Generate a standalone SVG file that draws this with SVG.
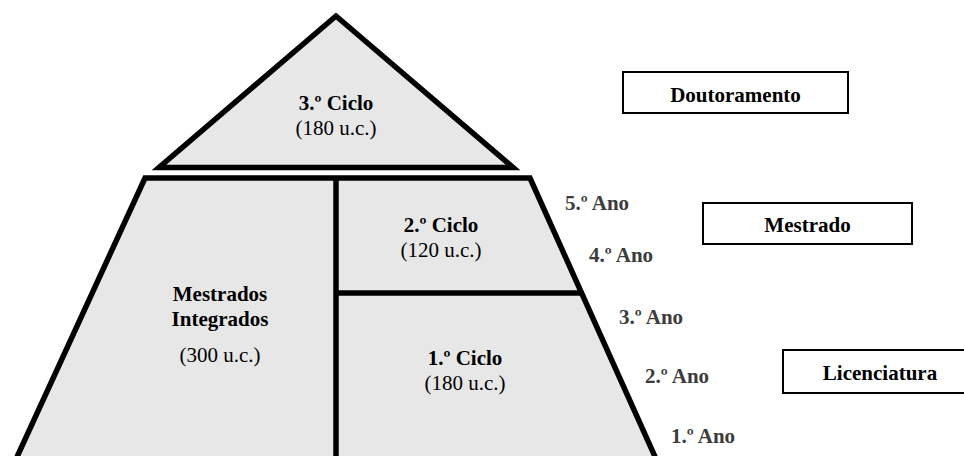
<svg xmlns="http://www.w3.org/2000/svg" width="964" height="456" viewBox="0 0 964 456">
<style>
.shape{fill:#e7e7e7;stroke:#000;stroke-width:5.5;stroke-linejoin:miter}
.div{stroke:#000;stroke-width:5.5;fill:none}
.box{fill:#fff;stroke:#000;stroke-width:2}
text{font-family:"Liberation Serif","Times New Roman",serif;font-size:21px;text-anchor:middle;fill:#000}
.b{font-weight:bold}
.yr{font-weight:bold;fill:#3c3c3c;text-anchor:start}
</style>
<rect width="964" height="456" fill="#fff"/>
<g id="ciclo3">
<polygon class="shape" points="336,16 159,167.5 513,167.5"/>
<text class="b" x="336" y="110">3.º Ciclo</text>
<text x="336" y="135">(180 u.c.)</text>
</g>
<g id="trapezio">
<polygon class="shape" points="145,178 530,178 661,470 11,470"/>
</g>
<g id="connectors">
<line class="div" x1="336" y1="178" x2="336" y2="470"/>
<line class="div" x1="336" y1="293" x2="582" y2="293"/>
</g>
<g id="mestrados-integrados">
<text class="b" x="220" y="301">Mestrados</text>
<text class="b" x="220" y="326">Integrados</text>
<text x="220" y="362">(300 u.c.)</text>
</g>
<g id="ciclo2">
<text class="b" x="441" y="232">2.º Ciclo</text>
<text x="441" y="257">(120 u.c.)</text>
</g>
<g id="ciclo1">
<text class="b" x="465" y="365">1.º Ciclo</text>
<text x="465" y="390">(180 u.c.)</text>
</g>
<g id="anos">
<text class="yr" x="565" y="210">5.º Ano</text>
<text class="yr" x="589" y="262">4.º Ano</text>
<text class="yr" x="619" y="324">3.º Ano</text>
<text class="yr" x="645" y="383">2.º Ano</text>
<text class="yr" x="671" y="443">1.º Ano</text>
</g>
<g id="doutoramento">
<rect class="box" x="623" y="72" width="225" height="41"/>
<text class="b" x="735.5" y="102">Doutoramento</text>
</g>
<g id="mestrado">
<rect class="box" x="703" y="203" width="209" height="41"/>
<text class="b" x="807.5" y="232">Mestrado</text>
</g>
<g id="licenciatura">
<rect class="box" x="783" y="350" width="195" height="43"/>
<text class="b" x="880" y="380">Licenciatura</text>
</g>
</svg>
